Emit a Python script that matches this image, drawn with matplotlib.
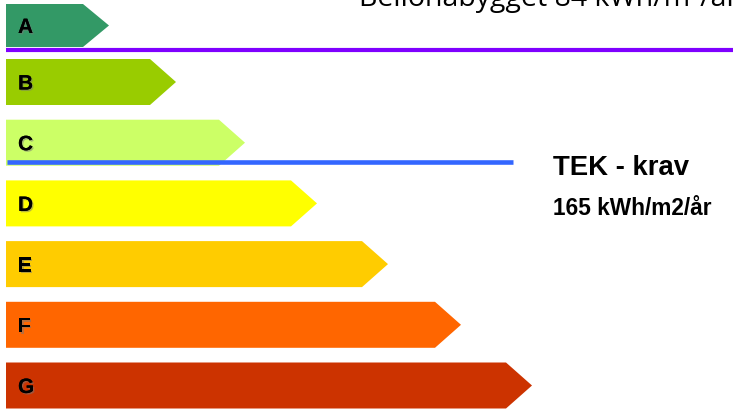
import matplotlib.pyplot as plt
from matplotlib.patches import Polygon
import matplotlib.patheffects as pe

# energy classes and bar lengths (px of the rectangular part)
classes = ['A', 'B', 'C', 'D', 'E', 'F', 'G']
bar_ends = [83, 150, 219, 291, 362, 435, 506]
colors = ['#339966', '#99CC00', '#CCFF66', '#FFFF00', '#FFCC00', '#FF6600', '#CC3300']

tek_value = 165        # kWh/m2/år
tek_line_y = 162.5
bellona_value = 84     # kWh/m²/år
bellona_line_y = 50

W, H = 733, 411
fig = plt.figure(figsize=(W / 100, H / 100), dpi=100)
ax = fig.add_axes([0, 0, 1, 1])
ax.set_xlim(0, W)
ax.set_ylim(H, 0)
ax.axis('off')

x0 = 6
bar_h = 46
tip = 26
step = 60.7
for i, (cls, end, col) in enumerate(zip(classes, bar_ends, colors)):
    top = 59 + (i - 1) * step
    bot = top + bar_h
    if i == 0:
        # top bar is cut by the picture frame
        top, bot = 4, 47
    mid = (top + bot) / 2
    pts = [(x0, top), (end, top), (end + tip, mid), (end, bot), (x0, bot)]
    ax.add_patch(Polygon(pts, closed=True, facecolor=col, edgecolor='none'))
    ax.text(18, mid + 2, cls, fontsize=15, fontweight='bold', color='black',
            va='center', ha='left', family='Liberation Sans',
            path_effects=[pe.withSimplePatchShadow(offset=(1, -1), shadow_rgbFace='#777777', alpha=0.5),
                          pe.Normal()])

# Bellona line (purple) and TEK requirement line (blue)
ax.plot([6, W], [bellona_line_y, bellona_line_y], color='#7F00FF', lw=3, solid_capstyle='butt')
ax.plot([7, 513], [tek_line_y, tek_line_y], color='#3366FF', lw=3.3, solid_capstyle='butt')

ax.text(553, 175, 'TEK - krav', fontsize=19.8, fontweight='bold', family='Liberation Sans',
        va='baseline', ha='left')
ax.text(553, 215, f'{tek_value} kWh/m2/år', fontsize=16.3, fontweight='bold',
        family='Liberation Sans', va='baseline', ha='left')

ax.text(359, 6, f'Bellonabygget {bellona_value} kWh/m²/år', fontsize=20.5, family='Open Sans',
        va='baseline', ha='left')

fig.savefig('out.png', dpi=100)
